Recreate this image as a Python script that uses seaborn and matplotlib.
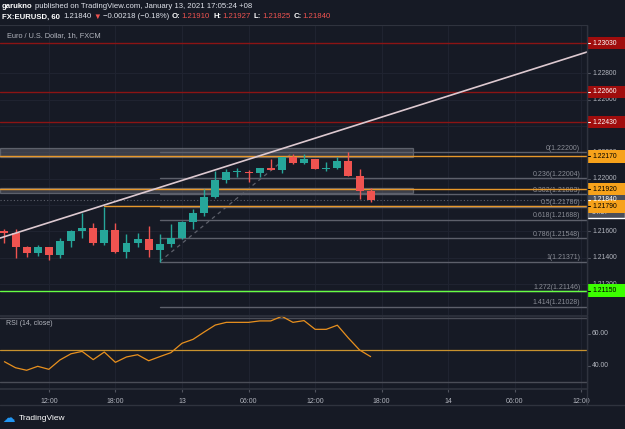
import numpy as np
import pandas as pd
import seaborn as sns
import matplotlib.pyplot as plt
from matplotlib.patches import Rectangle

# EURUSD 1h, 12 Jan 08:00 -> 13 Jan 17:00 (34 bars)
opens = [1.21600, 1.21590, 1.21483, 1.21433, 1.21481, 1.21420, 1.21527, 1.21603, 1.21625, 1.21514,
         1.21610, 1.21445, 1.21509, 1.21544, 1.21456, 1.21506, 1.21549, 1.21673, 1.21739, 1.21861,
         1.21990, 1.22048, 1.22052, 1.22046, 1.22079, 1.22068, 1.22162, 1.22117, 1.22149, 1.22076,
         1.22080, 1.22134, 1.22022, 1.21910]
highs = [1.21616, 1.21616, 1.21486, 1.21496, 1.21484, 1.21547, 1.21610, 1.21742, 1.21666, 1.21783,
         1.21666, 1.21578, 1.21590, 1.21641, 1.21578, 1.21656, 1.21675, 1.21767, 1.21919, 1.22058,
         1.22073, 1.22083, 1.22066, 1.22082, 1.22149, 1.22165, 1.22185, 1.22187, 1.22152, 1.22129,
         1.22167, 1.22200, 1.22071, 1.21927]
lows = [1.21509, 1.21400, 1.21407, 1.21415, 1.21382, 1.21395, 1.21479, 1.21552, 1.21496, 1.21496,
        1.21438, 1.21401, 1.21483, 1.21403, 1.21369, 1.21483, 1.21544, 1.21616, 1.21714, 1.21855,
        1.21969, 1.22015, 1.21977, 1.22010, 1.22066, 1.22041, 1.22111, 1.22115, 1.22073, 1.22060,
        1.22071, 1.22020, 1.21846, 1.21825]
closes = [1.21590, 1.21483, 1.21433, 1.21481, 1.21420, 1.21527, 1.21603, 1.21625, 1.21514, 1.21610,
          1.21445, 1.21509, 1.21544, 1.21456, 1.21506, 1.21549, 1.21673, 1.21739, 1.21861, 1.21990,
          1.22048, 1.22052, 1.22046, 1.22079, 1.22068, 1.22162, 1.22117, 1.22149, 1.22076, 1.22080,
          1.22134, 1.22022, 1.21910, 1.21840]
rsi = [42.5, 38.7, 37.1, 39.6, 37.7, 43.6, 47.5, 49.0, 43.8, 48.6, 42.1, 45.5, 46.9, 43.1, 45.7,
       48.2, 54.1, 56.6, 61.2, 65.6, 67.3, 67.3, 67.3, 68.2, 68.2, 71.1, 67.3, 68.4, 62.9, 62.9,
       65.5, 57.4, 49.9, 45.7]

time_ticks = [4, 10, 16, 22, 28, 34, 40, 46, 52]
time_labels = ['12:00', '18:00', '13', '06:00', '12:00', '18:00', '14', '06:00', '12:00']
price_ticks = [1.212, 1.214, 1.216, 1.218, 1.220, 1.222, 1.224, 1.226, 1.228]
rsi_ticks = [40, 60]

fib_ratios = ['0', '0.236', '0.382', '0.5', '0.618', '0.786', '1', '1.272', '1.414']
fib_levels = [1.22200, 1.22004, 1.21883, 1.21786, 1.21688, 1.21548, 1.21371, 1.21146, 1.21028]
fib_anchor_x = [14, 26]
fib_anchor_y = [1.21371, 1.22200]

red_levels = [1.23030, 1.22660, 1.22430]
orange_levels = [1.22170, 1.21920, 1.21790]
orange_start = [-0.4, -0.4, 9]
green_level = 1.21150
last_price = 1.21840
zones = [(1.22167, 1.22231), (1.21893, 1.21927)]
zone_end = 36.8
trend_x = [-0.4, 52.5]
trend_y = [1.21549, 1.22962]

df = pd.DataFrame({'open': opens, 'high': highs, 'low': lows, 'close': closes, 'rsi': rsi})
df['i'] = np.arange(len(df))
df['up'] = df['close'] >= df['open']

BG = '#161a25'
TXT = '#b2b5be'
GRID = '#1f2330'
SEP = '#2f333e'
UP, DOWN = '#26a69a', '#ef5350'

sns.set_theme(style='dark', rc={'figure.facecolor': BG, 'axes.facecolor': BG})
plt.rcParams['font.family'] = ['Liberation Sans', 'DejaVu Sans']

W, H = 625, 429
fig = plt.figure(figsize=(6.25, 4.29), dpi=100)

def box(l, t, r, b):
    return [l / W, 1 - b / H, (r - l) / W, (b - t) / H]

XLIM = (-0.4, 52.5)
YLIM = (1.20965, 1.23167)
ax = fig.add_axes(box(0, 25, 587, 315))
ax_rsi = fig.add_axes(box(0, 316, 587, 389))
ax_p = fig.add_axes(box(587, 25, 625, 315))
ax_pr = fig.add_axes(box(587, 316, 625, 389))

for a in (ax, ax_rsi, ax_p, ax_pr):
    a.set_facecolor(BG)
    for s in a.spines.values():
        s.set_visible(False)
    a.set_xticks([])
    a.set_yticks([])

# ---- main pane ----
ax.set_xlim(*XLIM)
ax.set_ylim(*YLIM)
for t in time_ticks:
    ax.axvline(t, color=GRID, lw=0.8, zorder=0)
for p in price_ticks:
    ax.axhline(p, color=GRID, lw=0.8, zorder=0)

# zones
for lo, hi in zones:
    ax.add_patch(Rectangle((XLIM[0], lo), zone_end - XLIM[0], hi - lo, facecolor='#5a5d68',
                           alpha=0.55, edgecolor='#8a8d96', lw=0.9, zorder=1))

# fib levels
for r, lv in zip(fib_ratios, fib_levels):
    ax.plot([fib_anchor_x[0], XLIM[1]], [lv, lv], color='#5d606b', lw=1, zorder=2)
    ax.text(51.9, lv + 0.00003, f'{r}({lv:.5f})', color='#8a8d96', fontsize=5,
            ha='right', va='bottom', zorder=3)
ax.plot(fib_anchor_x, fib_anchor_y, color='#5d606b', lw=0.9, ls=(0, (3, 3)), zorder=2)

# horizontal levels
for lv in red_levels:
    ax.axhline(lv, color='#8b1414', lw=1, zorder=2)
for lv, x0 in zip(orange_levels, orange_start):
    ax.plot([x0, XLIM[1]], [lv, lv], color='#e8982a', lw=1, zorder=4)
ax.axhline(green_level, color='#66ff44', lw=1, zorder=4)
ax.axhline(last_price, color='#5d606b', lw=0.8, ls=(0, (1, 2)), zorder=2)

# candles
cols = np.where(df['up'], UP, DOWN)
ax.vlines(df['i'], df['low'], df['high'], colors=cols, lw=1, zorder=5)
body_lo = np.minimum(df['open'], df['close'])
body_h = np.maximum(np.abs(df['close'] - df['open']), 0.00008)
ax.bar(df['i'], body_h, bottom=body_lo, width=0.72, color=cols, zorder=6, linewidth=0)

# trend line
sns.lineplot(x=trend_x, y=trend_y, ax=ax, color='#ddc9d0', lw=1.2, zorder=7)

ax.text(0.012, 0.962, 'Euro / U.S. Dollar, 1h, FXCM', transform=ax.transAxes, color=TXT,
        fontsize=5.3, ha='left', va='center')
ax.axhline(YLIM[1], color=SEP, lw=1.5)

# ---- price scale ----
ax_p.set_xlim(0, 38)
ax_p.set_ylim(*YLIM)
ax_p.axvline(0, color=SEP, lw=1)
for p in price_ticks:
    ax_p.plot([0, 2.5], [p, p], color='#50535e', lw=0.8)
    ax_p.text(5, p, f'{p:.5f}', color=TXT, fontsize=4.9, va='center', ha='left', zorder=2)

half = 6.2 / 13170
def tag(p, fc, tc, label=None):
    ax_p.add_patch(Rectangle((0, p - half), 38, 2 * half, facecolor=fc, edgecolor='none', zorder=5))
    ax_p.plot([0, 2.5], [p, p], color=tc, lw=0.8, zorder=6)
    ax_p.text(5, p, label or f'{p:.5f}', color=tc, fontsize=4.9, va='center', ha='left', zorder=6)

# current price tag with countdown underneath
ax_p.add_patch(Rectangle((0, last_price - 3 * half), 38, 4 * half, facecolor='#4a4e59', zorder=4))
ax_p.text(5, last_price - 2 * half, '34:37', color='#d1d4dc', fontsize=4.9, va='center', zorder=4)
tag(last_price, '#4a4e59', '#ffffff')
for lv in red_levels:
    tag(lv, '#a00d0d', '#ffffff')
for lv in orange_levels:
    tag(lv, '#f7a21b', '#000000')
tag(green_level, '#3cff00', '#000000')

# ---- RSI pane ----
ax_rsi.set_xlim(*XLIM)
ax_rsi.set_ylim(25.3, 71.3)
for t in time_ticks:
    ax_rsi.axvline(t, color=GRID, lw=0.8, zorder=0)
ax_rsi.axhline(70, color='#4a4d57', lw=1)
ax_rsi.axhline(30, color='#4a4d57', lw=1)
ax_rsi.axhline(50, color='#c8922e', lw=0.9)
sns.lineplot(data=df, x='i', y='rsi', ax=ax_rsi, color='#e8901e', lw=0.9)
ax_rsi.set_xlabel('')
ax_rsi.set_ylabel('')
ax_rsi.text(0.01, 0.9, 'RSI (14, close)', transform=ax_rsi.transAxes, color=TXT, fontsize=5,
            ha='left', va='center')
ax_rsi.spines['bottom'].set_visible(True)
ax_rsi.spines['bottom'].set_color(SEP)
ax_rsi.set_xticks(time_ticks)
ax_rsi.set_xticklabels(time_labels)
ax_rsi.tick_params(axis='x', colors='#50535e', length=2.5, width=0.8, pad=4,
                   labelcolor=TXT, labelsize=5, bottom=True)

ax_pr.set_xlim(0, 38)
ax_pr.set_ylim(25.3, 71.3)
ax_pr.axvline(0, color=SEP, lw=1)
for v in rsi_ticks:
    ax_pr.plot([0, 2.5], [v, v], color='#50535e', lw=0.8)
    ax_pr.text(5, v, f'{v:.2f}', color=TXT, fontsize=4.9, va='center', ha='left')

# separators
fig.add_artist(plt.Line2D([587 / W, 587 / W], [1 - 405 / H, 1 - 25 / H], color=SEP, lw=1))
fig.add_artist(plt.Line2D([0, 1], [1 - 405 / H, 1 - 405 / H], color=SEP, lw=1))
fig.add_artist(plt.Line2D([0, 587 / W], [1 - 315.5 / H, 1 - 315.5 / H], color=SEP, lw=1.2))

# ---- header (laid out left to right) ----
fs = 5.6
renderer = fig.canvas.get_renderer()

def write_row(y, parts, x=2):
    for s, c, w, gap in parts:
        t = fig.text(x / W, 1 - y / H, s, color=c, fontsize=fs, weight=w, va='center')
        x = t.get_window_extent(renderer).x1 + gap

write_row(6, [('garukno', '#ffffff', 'bold', 2),
              ('published on TradingView.com, January 13, 2021 17:05:24 +08', '#e0e3eb', 'normal', 0)])
write_row(17, [('FX:EURUSD, 60', '#ffffff', 'bold', 3), ('1.21840', '#e0e3eb', 'normal', 2),
               ('▼', '#ef5350', 'normal', 2), ('−0.00218 (−0.18%)', '#e0e3eb', 'normal', 3),
               ('O:', '#ffffff', 'bold', 1), ('1.21910', '#ef5350', 'normal', 3),
               ('H:', '#ffffff', 'bold', 1), ('1.21927', '#ef5350', 'normal', 3),
               ('L:', '#ffffff', 'bold', 1), ('1.21825', '#ef5350', 'normal', 3),
               ('C:', '#ffffff', 'bold', 1), ('1.21840', '#ef5350', 'normal', 0)])

# logo
fig.text(2 / W, 1 - 418 / H, '☁', color='#2196f3', fontsize=9, va='center',
         family=['DejaVu Sans'])
fig.text(19 / W, 1 - 418 / H, 'TradingView', color='#ffffff', fontsize=6, va='center')

fig.savefig('out.png', dpi=100, facecolor=BG)
